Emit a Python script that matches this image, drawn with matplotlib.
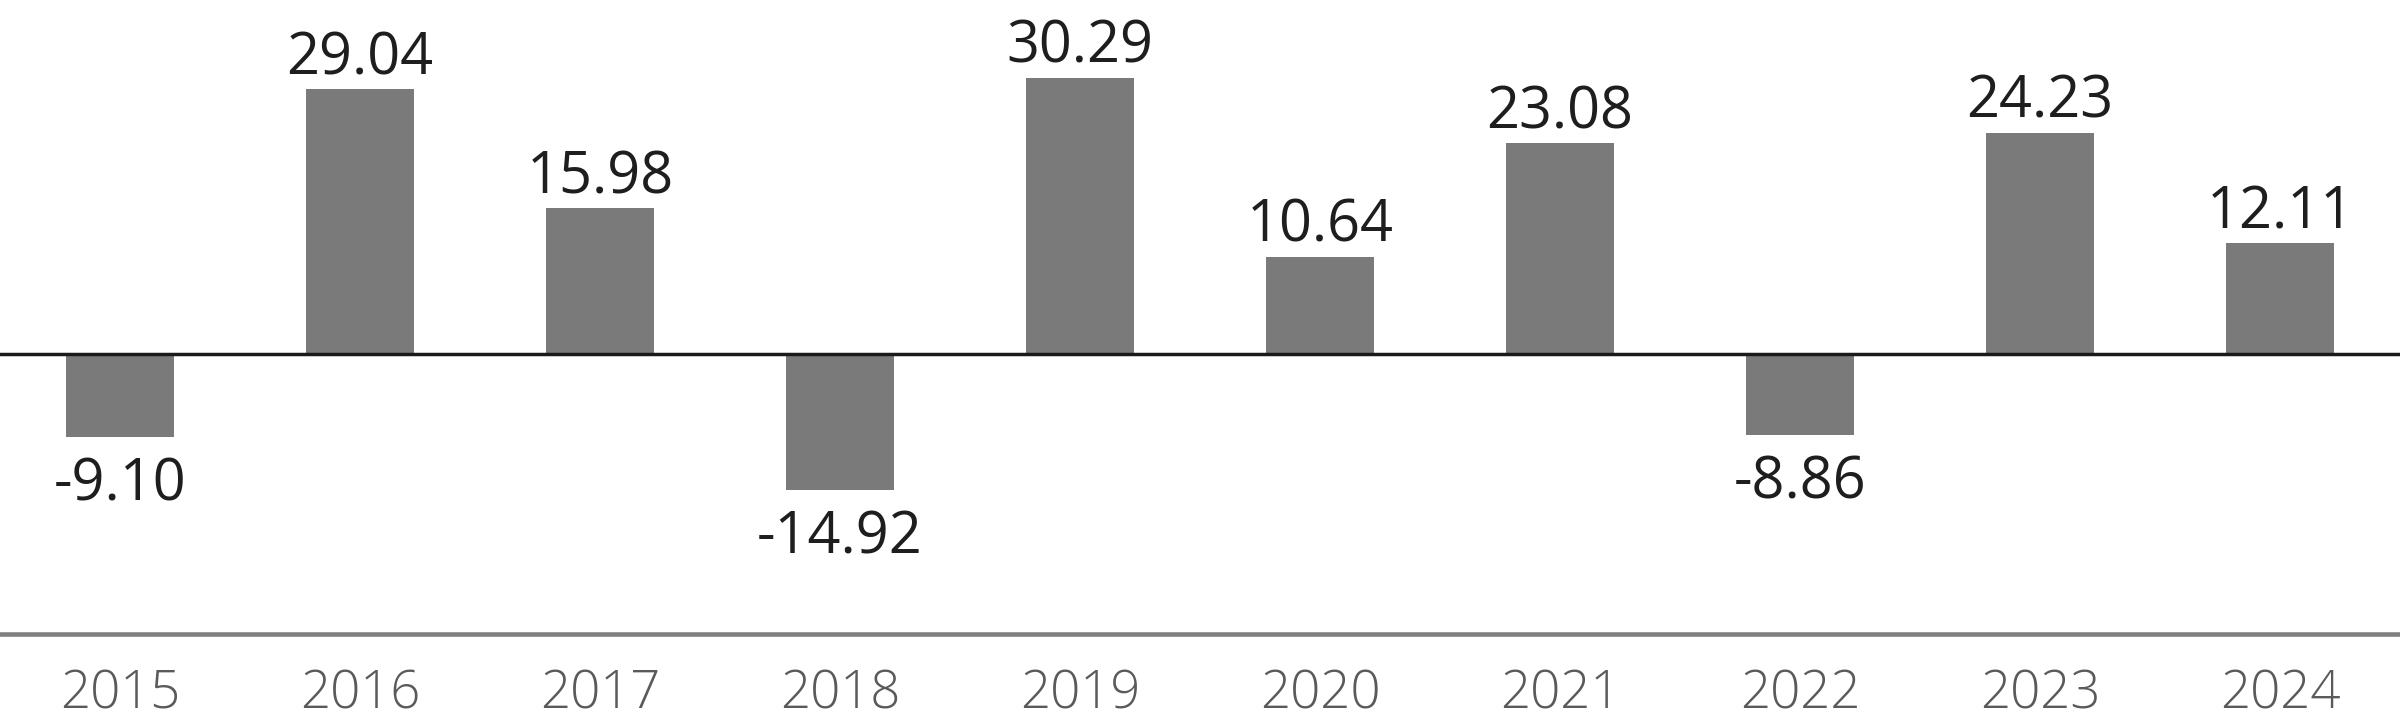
import numpy as np
import matplotlib
matplotlib.use('Agg')
import matplotlib.pyplot as plt

years = ['2015', '2016', '2017', '2018', '2019', '2020', '2021', '2022', '2023', '2024']
returns = [-9.10, 29.04, 15.98, -14.92, 30.29, 10.64, 23.08, -8.86, 24.23, 12.11]

fig = plt.figure(figsize=(24, 7.25), dpi=100)
ax = fig.add_axes([0, 0, 1, 1])
ax.axis('off')

x = np.arange(len(years))
ax.bar(x, returns, width=0.45, color='#7a7a7a', zorder=2)
ax.set_xlim(-0.5, len(years) - 0.5)
ax.set_ylim(-40.7, 38.8)

# zero line and bottom rule
ax.axhline(0, color='#1a1a1a', lw=2.5, zorder=3)
ax.axhline(-30.7, color='#808080', lw=3.3, zorder=3)

# value labels
for xi, v in zip(x, returns):
    off = 15 if v >= 0 else -64
    ax.annotate('{:.2f}'.format(v), (xi, v), xytext=(0, off), textcoords='offset pixels',
                ha='center', va='baseline', fontsize=41.5, color='#1e1e1e',
                family=['Open Sans', 'DejaVu Sans'])

# year labels (kept just inside the bottom edge)
for xi, yr in zip(x, years):
    ax.text(xi, -38.9, yr, ha='center', va='baseline', fontsize=38, color='#5a5a5a',
            family=['Open Sans', 'DejaVu Sans'], fontweight='light')

fig.savefig('out.png', dpi=100)
